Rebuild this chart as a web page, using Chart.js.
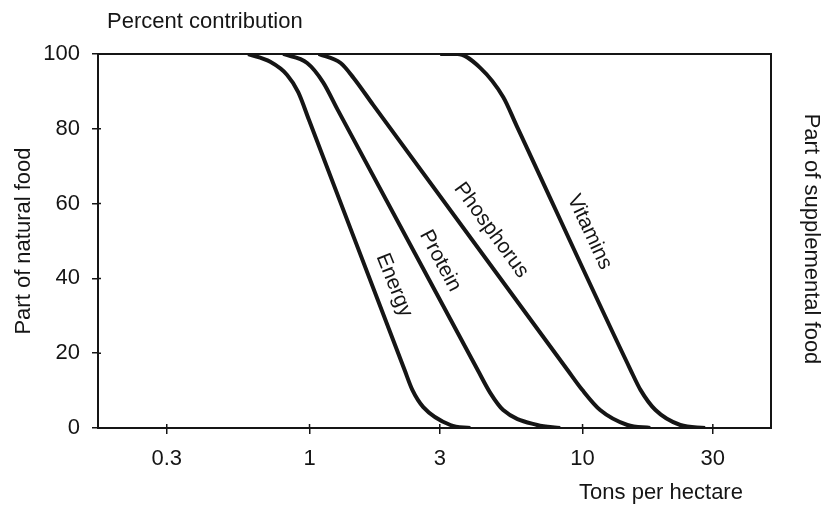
<!DOCTYPE html>
<html>
<head>
<meta charset="utf-8">
<script src="https://cdn.jsdelivr.net/npm/chart.js@4.4.1/dist/chart.umd.min.js"></script>
<style>
  html, body { margin: 0; padding: 0; background: #fff; }
  #wrap { width: 823px; height: 506px; position: relative; }
</style>
</head>
<body>
<div id="wrap"><canvas id="chart"></canvas></div>
<script>
// values (x = tons per hectare, y = % natural food)
const xTicks = [0.3, 1, 3, 10, 30];
const yTicks = [0, 20, 40, 60, 80, 100];

const energyX = [0.596, 0.718, 0.828, 0.909, 0.995, 2.23, 2.38, 2.61, 3.28, 3.88];
const energyY = [100, 97.9, 94.4, 89.8, 82.4, 15.5, 10.2, 5.6, 0.8, 0];

const proteinX = [0.801, 0.98, 1.12, 1.27, 4.13, 4.59, 5.12, 6.82, 8.28];
const proteinY = [100, 97.6, 92.5, 85.0, 15.5, 9.4, 4.8, 0.8, 0];

const phosX = [1.08, 1.30, 1.45, 1.71, 8.81, 9.97, 11.6, 14.6, 17.7];
const phosY = [100, 97.6, 93.6, 86.4, 15.5, 10.2, 4.8, 0.8, 0];

const vitX = [3.01, 3.48, 4.22, 5.12, 5.72, 15.0, 16.3, 18.5, 22.8, 28.1];
const vitY = [100, 100, 96.3, 88.5, 81.0, 15.5, 10.2, 4.8, 0.8, 0];

const seriesNames = ['Energy', 'Protein', 'Phosphorus', 'Vitamins'];

// where the curve names sit (data coords) and their tilt
const labelSpots = [
    { x: 2.04, y: 38.2, angle: 68 },
    { x: 3.01, y: 44.7, angle: 62 },
    { x: 4.63, y: 52.9, angle: 54 },
    { x: 10.6, y: 52.4, angle: 65 }
];

const FONT = '"Liberation Sans", Arial, sans-serif';
const INK = '#151515';

const pts = (xs, ys) => xs.map((x, i) => ({ x: x, y: ys[i] }));
const allSeries = [pts(energyX, energyY), pts(proteinX, proteinY), pts(phosX, phosY), pts(vitX, vitY)];

const frameAndText = {
    id: 'frameAndText',
    afterDraw(chart) {
        const { ctx, chartArea: a, scales } = chart;
        ctx.save();
        ctx.strokeStyle = INK;
        ctx.lineWidth = 2;
        ctx.strokeRect(a.left, a.top, a.right - a.left, a.bottom - a.top);

        // inner half of the tick marks (ticks cross the axis lines)
        ctx.lineWidth = 1.5;
        ctx.beginPath();
        xTicks.forEach(v => {
            const px = scales.x.getPixelForValue(v);
            ctx.moveTo(px, a.bottom); ctx.lineTo(px, a.bottom - 4);
        });
        yTicks.forEach(v => {
            const py = scales.y.getPixelForValue(v);
            ctx.moveTo(a.left, py); ctx.lineTo(a.left + 3, py);
        });
        ctx.stroke();

        ctx.fillStyle = INK;
        ctx.font = '22px ' + FONT;
        ctx.textBaseline = 'middle';

        // top title
        ctx.textAlign = 'left';
        ctx.fillText('Percent contribution', 107, 22);

        // x title
        ctx.textAlign = 'center';
        ctx.fillText('Tons per hectare', 661, 493);

        // left title
        ctx.save();
        ctx.translate(24, (a.top + a.bottom) / 2);
        ctx.rotate(-Math.PI / 2);
        ctx.fillText('Part of natural food', 0, 0);
        ctx.restore();

        // right title
        ctx.save();
        ctx.translate(811, 239);
        ctx.rotate(Math.PI / 2);
        ctx.fillText('Part of supplemental food', 0, 0);
        ctx.restore();

        // curve names
        ctx.font = '21px ' + FONT;
        labelSpots.forEach((s, i) => {
            ctx.save();
            ctx.translate(scales.x.getPixelForValue(s.x), scales.y.getPixelForValue(s.y));
            ctx.rotate(s.angle * Math.PI / 180);
            ctx.fillText(seriesNames[i], 0, 0);
            ctx.restore();
        });
        ctx.restore();
    }
};

new Chart(document.getElementById('chart'), {
    type: 'line',
    data: {
        datasets: allSeries.map((d, i) => ({
            label: seriesNames[i],
            data: d,
            borderColor: INK,
            borderWidth: 4,
            pointRadius: 0,
            fill: false,
            cubicInterpolationMode: 'monotone'
        }))
    },
    options: {
        responsive: true,
        maintainAspectRatio: false,
        animation: false,
        layout: { padding: { top: 54, right: 52, left: 0, bottom: 0 } },
        plugins: { legend: { display: false }, tooltip: { enabled: false } },
        scales: {
            x: {
                type: 'logarithmic',
                min: 0.168,
                max: 49,
                afterBuildTicks: s => { s.ticks = xTicks.map(v => ({ value: v })); },
                afterFit: s => { s.height = 78; },
                border: { display: false },
                grid: { drawOnChartArea: false, tickLength: 6, color: INK, lineWidth: 1.5 },
                ticks: { color: INK, font: { family: FONT, size: 22 }, padding: 12, maxRotation: 0, autoSkip: false,
                         callback: v => String(v) }
            },
            y: {
                min: 0,
                max: 100,
                afterBuildTicks: s => { s.ticks = yTicks.map(v => ({ value: v })); },
                afterFit: s => { s.width = 98; },
                border: { display: false },
                grid: { drawOnChartArea: false, tickLength: 6, color: INK, lineWidth: 1.5 },
                ticks: { color: INK, font: { family: FONT, size: 22 }, padding: 12 }
            }
        }
    },
    plugins: [frameAndText]
});
</script>
</body>
</html>
